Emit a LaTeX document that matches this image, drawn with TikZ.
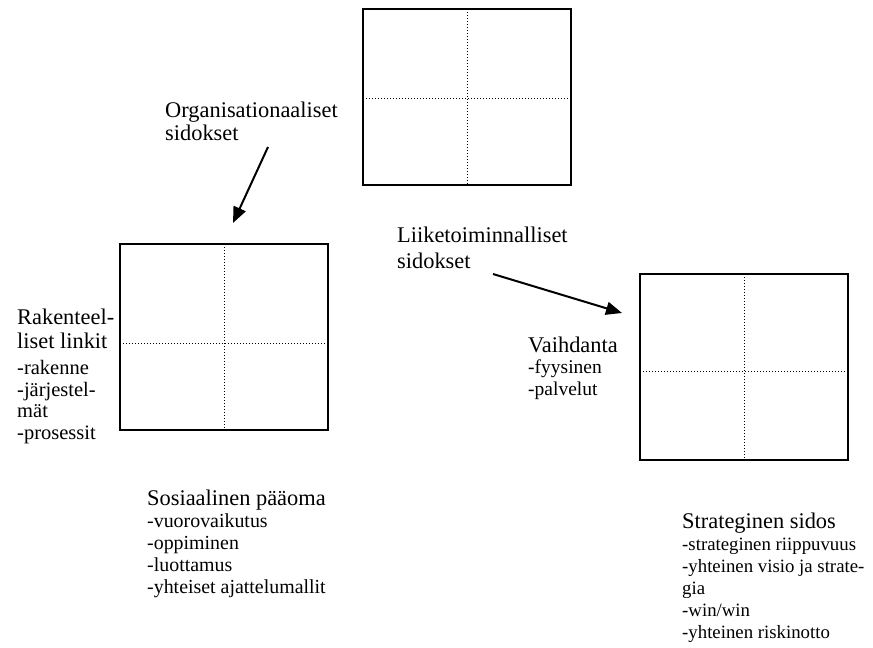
\documentclass[tikz,border=0pt]{standalone}
\usepackage{fontspec}
\setmainfont{Liberation Serif}
\usetikzlibrary{arrows.meta}
\begin{document}
\begin{tikzpicture}[x=1pt,y=-1pt,
  quad/.style={draw,line width=2pt,inner sep=0pt,outer sep=0pt,minimum width=208pt},
  dotline/.style={line width=1pt,dash pattern=on 1pt off 2pt},
  link/.style={line width=2pt,-{Triangle[length=16pt,width=13pt]}},
  head/.style={anchor=base west,inner sep=0pt,font=\fontsize{22.4}{26}\selectfont},
  item/.style={anchor=base west,inner sep=0pt,font=\fontsize{#1}{22}\selectfont},
  item/.default=19.5]
\useasboundingbox (0,0) rectangle (873,648);

% three quadrant boxes
\node[quad,minimum height=176pt] (T) at (467,97) {};
\node[quad,minimum height=186pt] (L) at (224,337) {};
\node[quad,minimum height=186pt] (R) at (744,367) {};
\draw[dotline] (T.north) -- (T.south);
\draw[dotline] (T.west |- 0,98) -- (T.east |- 0,98);
\draw[dotline] (L.north) -- (L.south);
\draw[dotline] (L.west |- 0,343) -- (L.east |- 0,343);
\draw[dotline] (R.north) -- (R.south);
\draw[dotline] (R.west |- 0,371) -- (R.east |- 0,371);

% organisational links
\node[head] (org1) at (165,117) {Organisationaaliset};
\node[head] (org2) at (165,140) {sidokset};
\coordinate (orgTail) at (268,147);
\coordinate (orgHead) at (233,223);
\draw[link] (orgTail) -- (orgHead);

% business links
\node[head] (bus1) at (397,242) {Liiketoiminnalliset};
\node[head] (bus2) at (397,268) {sidokset};
\coordinate (busTail) at (493,274);
\coordinate (busHead) at (622,313);
\draw[link] (busTail) -- (busHead);

% structural links
\node[head] (rak1) at (17,324) {Rakenteel-};
\node[head] (rak2) at (17,348) {liset linkit};
\foreach \t [count=\i] in {-rakenne,-järjestel-,mät,-prosessit}
  \node[item=20.5] (rak\i i) at (17,{353+21.5*\i}) {\t};

% exchange
\node[head] (vai) at (528,352) {Vaihdanta};
\foreach \t [count=\i] in {-fyysinen,-palvelut}
  \node[item] (vai\i) at (528,{352+21.5*\i}) {\t};

% social capital
\node[head] (soc) at (147,505) {Sosiaalinen pääoma};
\foreach \t [count=\i] in {-vuorovaikutus,-oppiminen,-luottamus,-yhteiset ajattelumallit}
  \node[item=19.9] (soc\i) at (147,{505+22*\i}) {\t};

% strategic bond
\node[head] (str) at (682,528) {Strateginen sidos};
\foreach \t [count=\i] in {-strateginen riippuvuus,-yhteinen visio ja strate-,gia,-win/win,-yhteinen riskinotto}
  \node[item=18.8] (str\i) at (682,{528+22*\i}) {\t};
\end{tikzpicture}
\end{document}
